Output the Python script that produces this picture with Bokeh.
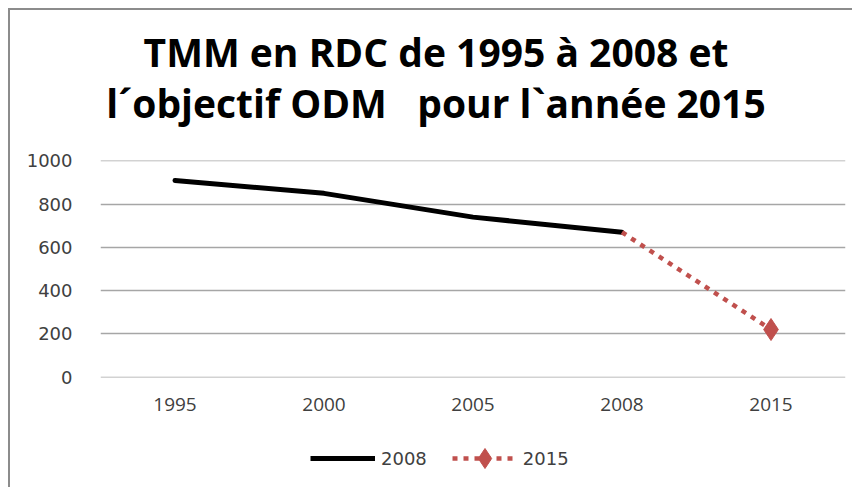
from bokeh.plotting import figure
from bokeh.models import Legend, LegendItem, Range1d, FixedTicker, ColumnDataSource, Div
from bokeh.layouts import column
from bokeh.embed import file_html
from bokeh.resources import INLINE

# ---- data ----
years = ["1995", "2000", "2005", "2008", "2015"]
tmm_2008_years = ["1995", "2000", "2005", "2008"]
tmm_2008_values = [910, 850, 740, 670]
target_2015_years = ["2008", "2015"]
target_2015_values = [670, 220]
y_ticks = [0, 200, 400, 600, 800, 1000]
title_line1 = "TMM en RDC de 1995 à 2008 et"
title_line2 = "l´objectif ODM   pour l`année 2015"
legend_labels = ["2008", "2015"]

RED = "#C0504D"
GRID = "#a6a6a6"
TXT = "#404040"

title = Div(text=f"{title_line1}\n{title_line2}", width=842, height=138, margin=0,
            styles={"font-family": "'Open Sans'", "font-weight": "bold", "font-size": "39px",
                    "line-height": "51px", "text-align": "center", "white-space": "pre",
                    "color": "black", "padding-top": "16px", "padding-left": "10px",
                    "box-sizing": "border-box", "width": "842px", "background": "white"})

p = figure(x_range=years, y_range=Range1d(-2, 1002), width=842, height=282,
           output_backend="svg", toolbar_location=None, margin=0,
           min_border_left=90, min_border_right=7, min_border_top=12, min_border_bottom=53)
p.outline_line_color = None
p.background_fill_color = "white"

p.xgrid.grid_line_color = None
p.ygrid.grid_line_color = GRID
p.ygrid.grid_line_width = 1.5
p.yaxis.ticker = FixedTicker(ticks=y_ticks)

for ax in (p.xaxis[0], p.yaxis[0]):
    ax.axis_line_color = None
    ax.major_tick_line_color = None
    ax.minor_tick_line_color = None
    ax.major_label_text_color = TXT
p.yaxis.major_label_text_font = "DejaVu Sans"
p.yaxis.major_label_text_font_size = "18px"
p.xaxis.major_label_text_font = "Open Sans"
p.xaxis.major_label_text_font_size = "19px"
p.yaxis.major_label_standoff = 22
p.xaxis.major_label_standoff = 14

src1 = ColumnDataSource(dict(x=tmm_2008_years, y=tmm_2008_values))
src2 = ColumnDataSource(dict(x=target_2015_years, y=target_2015_values))
src3 = ColumnDataSource(dict(x=target_2015_years[-1:], y=target_2015_values[-1:]))

p.line("x", "y", source=src1, line_color="black", line_width=5, line_cap="round")
p.line("x", "y", source=src2, line_color=RED, line_width=4.5, line_dash="5 6")
p.scatter("x", "y", source=src3, marker="diamond", size=22, fill_color=RED, line_color=RED)

# legend strip: the same series drawn into a 0..1 window, so only their legend glyphs show
lg = figure(width=842, height=57, output_backend="svg", toolbar_location=None, margin=0,
            x_range=Range1d(0, 1), y_range=Range1d(0, 1),
            x_axis_location=None, y_axis_location=None,
            min_border_left=90, min_border_right=7, min_border_top=0, min_border_bottom=0)
lg.outline_line_color = None
lg.background_fill_color = "white"
lg.grid.visible = False
e1 = lg.line(x=list(range(len(tmm_2008_values))), y=tmm_2008_values,
             line_color="black", line_width=5)
e2 = lg.line(x=list(range(len(target_2015_values))), y=target_2015_values,
             line_color=RED, line_width=4.5, line_dash="5 6")
e3 = lg.scatter(x=list(range(len(target_2015_values)))[-1:], y=target_2015_values[-1:],
                marker="diamond", size=22, fill_color=RED, line_color=RED)

legend = Legend(items=[LegendItem(label=legend_labels[0], renderers=[e1]),
                       LegendItem(label=legend_labels[1], renderers=[e2, e3])],
                location=(210, 4), orientation="horizontal",
                label_text_font="DejaVu Sans", label_text_font_size="18px", label_text_color=TXT,
                glyph_width=65, glyph_height=50, label_standoff=6, spacing=25,
                padding=0, margin=0, border_line_color=None, background_fill_alpha=0)
lg.add_layout(legend, "center")

layout = column(title, p, lg, spacing=0, margin=(8, 0, 0, 8),
                styles={"border-left": "2px solid #8c8c8c", "border-top": "2px solid #8c8c8c",
                        "background": "white"})

open("out.html", "w").write(file_html(layout, INLINE))
